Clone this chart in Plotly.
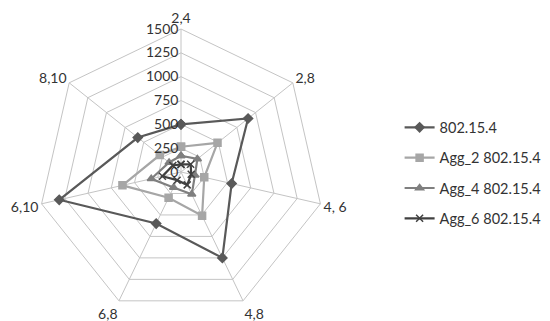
import plotly.graph_objects as go

categories = ["2,4", "2,8", "4, 6", "4,8", "6,8", "6,10", "8,10"]
s_802 = [500, 900, 545, 1000, 600, 1310, 580]
s_agg2 = [265, 490, 250, 510, 300, 630, 285]
s_agg4 = [170, 220, 150, 260, 180, 320, 160]
s_agg6 = [80, 130, 110, 150, 95, 200, 110]
series_names = ["802.15.4", "Agg_2 802.15.4", "Agg_4 802.15.4", "Agg_6 802.15.4"]
radial_ticks = [0, 250, 500, 750, 1000, 1250, 1500]

styles = [
    dict(color="#595959", symbol="diamond", size=7, width=2.2),
    dict(color="#a6a6a6", symbol="square", size=7, width=2.2),
    dict(color="#7f7f7f", symbol="triangle-up", size=7, width=2.2),
    dict(color="#404040", symbol="x-thin", size=7, width=2.2),
]

fig = go.Figure()
for name, vals, st in zip(series_names, [s_802, s_agg2, s_agg4, s_agg6], styles):
    fig.add_trace(go.Scatterpolar(
        r=vals + vals[:1], theta=categories + categories[:1], name=name,
        mode="lines+markers", legendgroup=name,
        line=dict(color=st["color"], width=st["width"]),
        marker=dict(symbol=st["symbol"], size=st["size"], color=st["color"],
                    line=dict(color=st["color"], width=1.5)),
    ))

fig.update_layout(
    width=550, height=321,
    margin=dict(l=0, r=0, t=0, b=0),
    paper_bgcolor="white", plot_bgcolor="white",
    font=dict(family="Lato, Liberation Sans, sans-serif", size=14, color="#333333"),
    polar=dict(
        domain=dict(x=[30/550, 316/550], y=[14/321, 300/321]),
        gridshape="linear",
        bgcolor="white",
        angularaxis=dict(direction="clockwise", rotation=90, showline=True,
                         linecolor="#c4c4c4", linewidth=1, gridcolor="#c4c4c4",
                         ticks="", tickfont=dict(size=14)),
        radialaxis=dict(range=[0, 1500], tickvals=radial_ticks, angle=90, tickangle=90,
                        side="counterclockwise", showline=False, gridcolor="#c4c4c4",
                        ticks="", tickfont=dict(size=14)),
    ),
    legend=dict(x=0.712, y=0.678, xanchor="left", yanchor="top", tracegroupgap=8.5,
                font=dict(size=14.5), bgcolor="rgba(0,0,0,0)"),
)

fig.write_html("out.html")
